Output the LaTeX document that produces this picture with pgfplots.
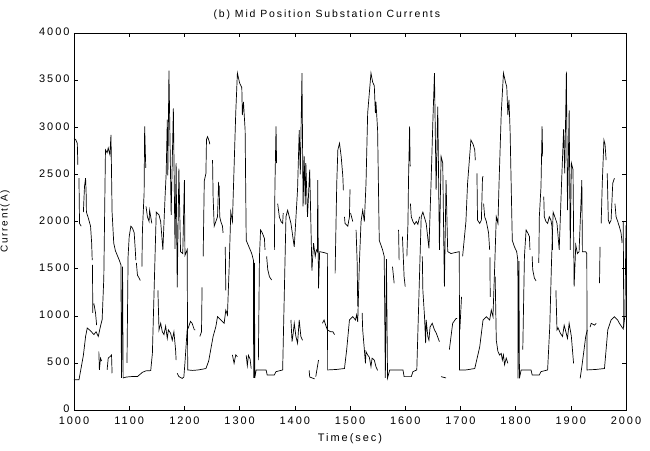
\documentclass[border=0pt]{standalone}
\usepackage{fontspec}
\setmainfont{Liberation Sans}[LetterSpace=18]
\usepackage{pgfplots}
\usepackage{pgfplotstable}
\pgfplotsset{compat=1.18}

\pgfplotstableread{
t v
1000 320
1009 320
1017 580
1021 780
1024 870
1030 840
1036 800
1040 830
1044 780
1048 890
1051 960
1054 1400
1057 2760
1060 2730
1062 2780
1065 2710
1067 2920
1069 2100
1072 1770
1075 1690
1082 1590
1085 1540
1086 340
1088 1520
1089 340
1095 350
1105 355
1115 355
1124 400
1130 415
1139 418
1142 600
1149 2100
1154 2070
1157 2000
1161 1700
1165 2265
1167 2510
1169 3080
1170 2490
1172 3600
1176 2070
1180 3200
1183 1710
1185 2620
1187 1300
1190 2560
1193 1680
1197 1660
1200 2440
1201 1640
1205 1700
1206 425
1215 420
1225 425
1239 440
1244 520
1252 780
1257 885
1260 990
1266 955
1272 920
1275 1060
1278 1010
1281 1500
1284 2100
1287 2000
1293 3150
1296 3575
1300 3470
1304 3420
1305 3130
1307 3270
1310 2970
1312 1800
1317 1730
1322 1660
1325 1590
1325.5 340
1327 1560
1327.5 340
1330 425
1348 425
1350 372
1363 372
1366 407
1378 425
1384 2050
1387 2120
1393 1980
1399 1730
1405 2340
1408 2970
1410 2500
1413 3575
1415 2160
1417 2690
1419 2180
1420 2620
1423 2050
1427 2550
1431 1480
1434 1770
1437 1630
1439 1700
1441 1680
1441.5 2440
1443 1290
1445 1680
1453 1670
1459 1660
1459.5 425
1475 430
1490 440
1494 640
1499 955
1505 990
1510 955
1512 1010
1514 935
1517 1560
1520 2000
1523 2120
1526 2000
1529 2405
1532 3150
1538 3575
1541 3480
1544 3440
1546 3150
1547 3270
1550 2970
1553 1800
1559 1700
1562 1630
1564 340
1566 1600
1568 340
1572 425
1596 425
1598 354
1611 354
1614 407
1621 425
1629 2050
1632 2100
1638 1980
1643 1715
1647 2440
1650 3040
1653 3575
1656 2335
1659 3220
1662 1700
1665 2690
1668 2620
1671 1310
1674 2440
1677 1680
1683 1660
1690 1670
1698 1680
1698.5 425
1710 425
1726 440
1735 670
1741 955
1747 990
1753 955
1756 1060
1759 990
1762 1500
1765 2050
1768 1980
1770 2405
1774 3150
1778 3575
1782 3470
1784 3430
1786 3130
1788 3290
1790 2970
1794 1800
1798 1730
1802 1680
1804 1590
1804.5 336
1806 1580
1807 336
1810 425
1828 425
1830 372
1843 372
1846 407
1858 425
1862 900
1865 1560
1868 2100
1871 2050
1875 1980
1879 1700
1883 2370
1887 2980
1889 2510
1892 3590
1894 2120
1897 3180
1899 1700
1901 2620
1904 2550
1906 1310
1909 1750
1912 1660
1915 1680
1920 2440
1921 1680
1927 1680
1929 1660
1929.5 425
1945 430
1961 440
1967 850
1973 955
1979 990
1985 955
1988 920
1992 885
1995 860
1998 1000
2000 1960
}\seriesA

\pgfplotstableread{
t v
1000 2880
1003 2870
1006 2830
1007 2600
1008 nan
1009 2460
1010 1980
1013 1950
1015 nan
1017 2100
1019 2370
1021 2460
1022 2300
1022.5 2100
1026 2035
1030 1950
1032 1770
1033 1590
1033.2 nan
1033.5 1540
1034 1030
1035 nan
1036 1130
1039 1030
1041 900
1043 nan
1045 620
1046 425
1048 550
1050 520
1055 nan
1060 425
1062 550
1065 566
1068 584
1069 390
1080 nan
1096 500
1098 1630
1100 1840
1103 1950
1106 1930
1109 1880
1111 1700
1112 1590
1112.5 nan
1113 1560
1115 1430
1118 1400
1120 1375
1121 nan
1123 1520
1124 1910
1127 2300
1128 3010
1130 2570
1130.2 nan
1130.5 2160
1133 2050
1136 2000
1137 2120
1139 2050
1141 1980
1145 nan
1152 1270
1154 850
1157 920
1160 830
1163 800
1166 890
1169 760
1171 850
1175 815
1178 740
1181 830
1184 640
1185 530
1186 nan
1187 390
1190 355
1196 335
1199 350
1201 500
1205 850
1207 870
1211 940
1214 920
1218 850
1220 850
1224 nan
1228 780
1231 830
1232 1300
1233 nan
1234 1630
1236 2430
1239 2510
1240 2870
1242 2900
1245 2850
1246 2820
1248 nan
1251 2650
1252 2265
1254 1950
1257 2000
1260 2050
1262 2420
1262.5 nan
1263 2380
1264 2050
1266 2000
1269 1950
1270 1880
1272 nan
1274 1730
1275 1270
1280 nan
1287 584
1290 495
1293 584
1296 566
1300 nan
1312 580
1314 470
1316 580
1319 540
1321 440
1325 nan
1334 530
1336 1630
1338 1910
1341 1880
1345 1820
1346 1700
1347 nan
1349 1630
1351 1490
1354 1415
1358 1380
1360 nan
1363 1700
1364 2370
1366 3010
1367 2620
1368 nan
1369 2190
1372 2050
1375 2000
1378 1980
1379 2090
1385 nan
1393 955
1395 725
1397 810
1399 920
1402 780
1405 710
1408 955
1411 780
1414 740
1420 nan
1426 420
1427 350
1436 330
1437 nan
1438 354
1443 530
1445 nan
1450 920
1453 955
1456 900
1459 850
1465 830
1469 830
1472 800
1472.5 nan
1473 1450
1476 2405
1478 2760
1481 2830
1484 2690
1487 2480
1488 2330
1489 nan
1490 2050
1491 1980
1496 1950
1499 2050
1500 2340
1500.5 nan
1501 2090
1505 2000
1508 nan
1511 1910
1513 1560
1514 1100
1518 nan
1522 1030
1523 850
1526 640
1528 495
1529 620
1532 584
1535 560
1538 460
1540 550
1544 530
1547 460
1550 420
1560 nan
1577 1520
1580 1345
1584 nan
1588 1910
1589 1590
1592 nan
1595 1840
1598 1415
1600 1310
1601 nan
1603 1630
1605 1980
1606 2440
1608 3010
1609 2585
1609.2 nan
1609.5 2190
1611 2050
1614 2000
1617 1970
1620 2000
1623 1970
1626 2050
1628 nan
1631 1630
1632 1270
1635 990
1637 710
1638 955
1641 780
1643 740
1645 880
1649 920
1653 850
1656 820
1662 725
1663 nan
1665 354
1674 340
1676 nan
1680 640
1686 920
1692 970
1694 970
1696 nan
1699 850
1702 1200
1703 nan
1704 1630
1710 2000
1713 2405
1719 2865
1723 2820
1726 2760
1727 2650
1728 nan
1730 2510
1731 2015
1735 1980
1738 2015
1740 2460
1741 2480
1741.5 nan
1742 2190
1744 2050
1747 2000
1750 1910
1751 1880
1753 1700
1753.2 nan
1753.5 1620
1754 1200
1758 nan
1763 1415
1765 740
1768 620
1771 584
1774 600
1776 530
1778 584
1780 480
1783 550
1786 495
1790 nan
1813 640
1816 1630
1819 1910
1822 1880
1825 1840
1826 1700
1828 nan
1830 1630
1831 1490
1834 1400
1837 1370
1840 nan
1842 1560
1843 2050
1846 2370
1848 3010
1849 2690
1850 nan
1851 2265
1852 2050
1855 2000
1858 1980
1861 2050
1864 2015
1866 1945
1867 1700
1870 nan
1873 1270
1875 850
1877 870
1881 815
1885 780
1888 900
1891 830
1894 760
1897 920
1899 850
1901 780
1905 495
1910 nan
1917 336
1920 460
1924 640
1927 780
1930 850
1932 nan
1935 880
1937 920
1940 910
1943 900
1946 920
1949 nan
1952 1345
1953 1730
1954 nan
1955 1980
1957 2405
1960 2865
1962 2820
1964 2650
1965 nan
1966 2510
1968 2015
1970 1980
1973 2015
1976 2405
1979 2460
1979.5 nan
1980 2190
1982 2050
1985 2000
1988 1945
1991 1880
1993 1770
1994 nan
1995 2000
1996 880
1998 nan
1999 1500
2000 1600
}\seriesB

\begin{document}
\begin{tikzpicture}
\useasboundingbox (-74bp,-41bp) rectangle (576bp,410bp);
\begin{axis}[
  at={(0,0)}, anchor=south west,
  width=552bp, height=377bp, scale only axis,
  xmin=1000, xmax=2000, ymin=0, ymax=4000,
  xtick={1000,1100,...,2000}, ytick={0,500,...,4000},
  tick align=inside, major tick length=4bp,
  tick style={black, line width=0.5pt},
  axis line style={line width=0.8pt},
  /pgf/number format/assume math mode=true,
  /pgf/number format/1000 sep={},
  ticklabel style={font=\fontsize{11}{13}\selectfont},
  xticklabel style={yshift=-3bp},
  yticklabel style={xshift=-1bp, yshift=1bp},
  every axis title shift=0pt,
  title={(b) Mid Position Substation Currents},
  title style={font=\fontsize{10.5}{12}\selectfont, at={(axis description cs:0.458,1.048)}, anchor=center},
  xlabel={Time(sec)},
  xlabel style={font=\fontsize{11}{13}\selectfont, at={(axis description cs:0.5,-0.075)}, anchor=center},
  ylabel={Current(A)},
  ylabel style={font=\fontsize{10}{12}\selectfont, at={(axis description cs:-0.11,0.5)}, anchor=south},
  unbounded coords=jump,
]
\addplot[black, line width=0.7pt, no marks] table[x=t,y=v] {\seriesA};
\addplot[black, line width=0.7pt, no marks] table[x=t,y=v] {\seriesB};
\end{axis}
\end{tikzpicture}
\end{document}
